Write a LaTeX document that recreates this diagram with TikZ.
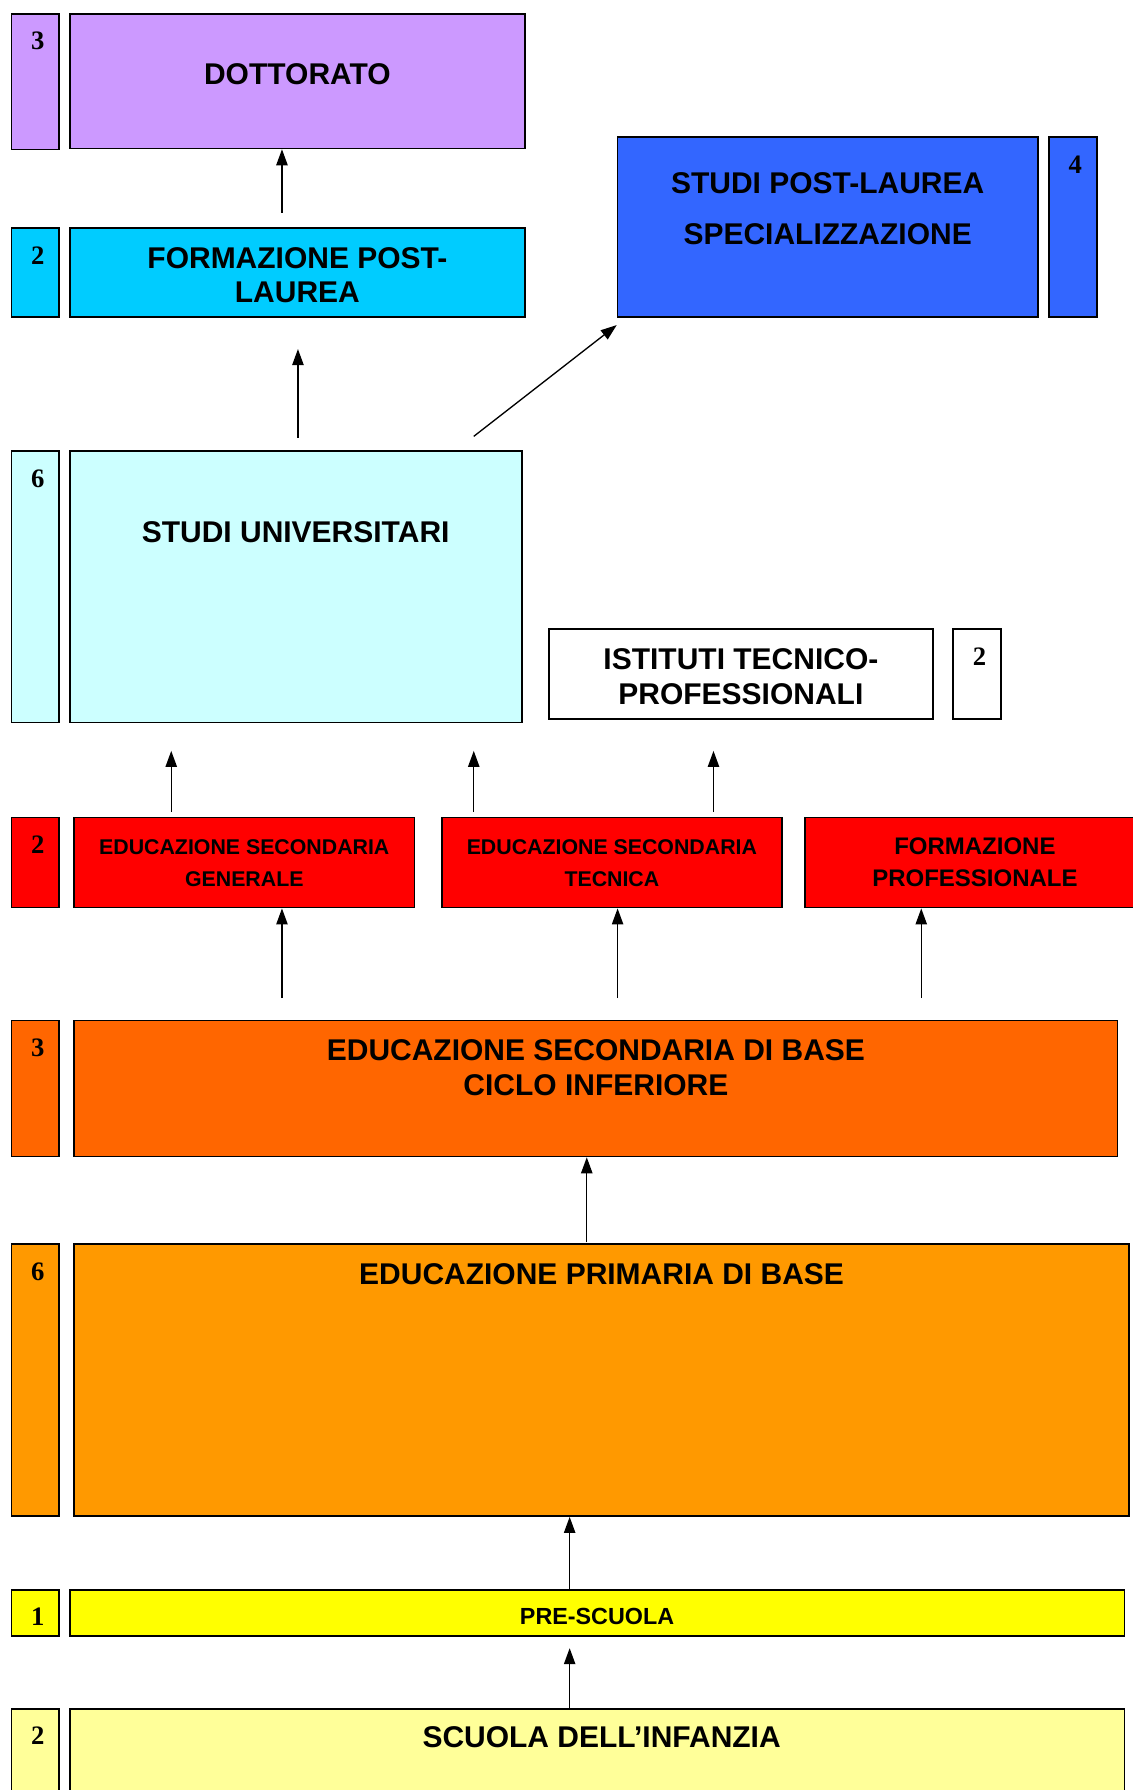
\documentclass[tikz,border=0pt]{standalone}
\usepackage{fontspec}
\setmainfont{Liberation Sans}
\newfontfamily\numfont{Liberation Serif}
\usetikzlibrary{calc, fit, arrows.meta}

\definecolor{dottcol}{HTML}{CC99FF}
\definecolor{fplcol}{HTML}{00CCFF}
\definecolor{splcol}{HTML}{3366FF}
\definecolor{univcol}{HTML}{CCFFFF}
\definecolor{redcol}{HTML}{FF0000}
\definecolor{basecol}{HTML}{FF6600}
\definecolor{primcol}{HTML}{FF9900}
\definecolor{precol}{HTML}{FFFF00}
\definecolor{infcol}{HTML}{FFFF99}

\begin{document}
\begin{tikzpicture}[
    x=0.8566pt, y=-0.8566pt,
    arrow/.style ={draw, line width=1pt, ->, >={Triangle[length=12pt,width=8.5pt]}},
    box/.style = {rectangle, draw=black, line width=1.3pt, inner sep=0pt},
    lbl/.style = {font=\bfseries\fontsize{22.5}{26.5}\selectfont, align=center, inner sep=0pt},
    small/.style = {font=\bfseries\fontsize{16}{24}\selectfont, align=center, inner sep=0pt},
    num/.style = {font=\numfont\bfseries\fontsize{20}{20}\selectfont, inner sep=0pt}
  ]
  \useasboundingbox[fill=white] (0,0) rectangle (992,1568);

  % boxes
  \node[box, fill=dottcol, fit={(10,12) (52,131)}] (dott-y) {};
  \node[box, fill=dottcol, fit={(61,12) (460,130)}] (dott) {};
  \node[box, fill=fplcol, fit={(10,200) (52,278)}] (fpl-y) {};
  \node[box, fill=fplcol, fit={(61,200) (460,278)}] (fpl) {};
  \node[box, fill=splcol, fit={(541,120) (909,278)}] (spl) {};
  \node[box, fill=splcol, fit={(919,120) (961,278)}] (spl-y) {};
  \node[box, fill=univcol, fit={(10,395) (52,633)}] (univ-y) {};
  \node[box, fill=univcol, fit={(61,395) (457,633)}] (univ) {};
  \node[box, fill=white, fit={(481,551) (817,630)}] (ist) {};
  \node[box, fill=white, fit={(835,551) (877,630)}] (ist-y) {};
  \node[box, fill=redcol, fit={(10,716) (52,795)}] (sec-y) {};
  \node[box, fill=redcol, fit={(65,716) (363,795)}] (gen) {};
  \node[box, fill=redcol, fit={(387,716) (685,795)}] (tec) {};
  \node[box, fill=redcol, fit={(705,716) (1003,795)}] (prof) {};
  \node[box, fill=basecol, fit={(10,894) (52,1013)}] (base-y) {};
  \node[box, fill=basecol, fit={(65,894) (979,1013)}] (base) {};
  \node[box, fill=primcol, fit={(10,1090) (52,1328)}] (prim-y) {};
  \node[box, fill=primcol, fit={(65,1090) (989,1328)}] (prim) {};
  \node[box, fill=precol, fit={(10,1393) (52,1433)}] (pre-y) {};
  \node[box, fill=precol, fit={(61,1393) (985,1433)}] (pre) {};
  \node[box, fill=infcol, fit={(10,1497) (52,1600)}] (inf-y) {};
  \node[box, fill=infcol, fit={(61,1497) (985,1600)}] (inf) {};

  % texts
  \node[lbl] (dott-t) at (260.5,65) {DOTTORATO};
  \node[lbl, font=\bfseries\fontsize{22.5}{25.7}\selectfont] (fpl-t) at (260.5,241) {FORMAZIONE POST-\\LAUREA};
  \node[lbl, font=\bfseries\fontsize{22.5}{38.5}\selectfont] (spl-t) at (725,182.5) {STUDI POST-LAUREA\\SPECIALIZZAZIONE};
  \node[lbl] (univ-t) at (259,466) {STUDI UNIVERSITARI};
  \node[lbl] (ist-t) at (649,592.5) {ISTITUTI TECNICO-\\PROFESSIONALI};
  \node[small] (gen-t) at (214,756) {EDUCAZIONE SECONDARIA\\GENERALE};
  \node[small] (tec-t) at (536,756) {EDUCAZIONE SECONDARIA\\TECNICA};
  \node[small, font=\bfseries\fontsize{18}{24}\selectfont] (prof-t) at (854,755) {FORMAZIONE\\PROFESSIONALE};
  \node[lbl] (base-t) at (522,935.5) {EDUCAZIONE SECONDARIA DI BASE\\CICLO INFERIORE};
  \node[lbl] (prim-t) at (527,1116) {EDUCAZIONE PRIMARIA DI BASE};
  \node[small, font=\bfseries\fontsize{17.5}{20}\selectfont] (pre-t) at (523,1416) {PRE-SCUOLA};
  \node[lbl] (inf-t) at (527,1522) {SCUOLA DELL’INFANZIA};

  % years
  \node[num] (dott-n) at (33,36) {3};
  \node[num] (fpl-n) at (33,224) {2};
  \node[num] (spl-n) at (942,144) {4};
  \node[num] (univ-n) at (33,419) {6};
  \node[num] (ist-n) at (858,575) {2};
  \node[num] (sec-n) at (33,740) {2};
  \node[num] (base-n) at (33,918) {3};
  \node[num] (prim-n) at (33,1114) {6};
  \node[num] (pre-n) at (33,1416) {1};
  \node[num] (inf-n) at (33,1520) {2};

  % arrows
  \begin{scope}[every path/.style=arrow]
    \path ($(fpl.north)+(-13.5,-13)$) -- ($(dott.south)+(-13.5,0)$);
    \path ($(univ.north)+(2,-11)$) -- ($(fpl.south)+(0.5,27)$);
    \path ($(univ.north)+(156,-12)$) -- ($(spl.south west)+(0,6)$);
    \path ($(gen.north)+(-64,-4)$) -- ($(univ.south)+(-109,24)$);
    \path ($(tec.north)+(-121,-4)$) -- ($(univ.south)+(156,24)$);
    \path ($(tec.north)+(89,-4)$) -- ($(ist.south)+(-24,27)$);
    \path ($(base.north)+(-275,-19)$) -- ($(gen.south)+(33,0)$);
    \path ($(base.north)+(19,-19)$) -- ($(tec.south)+(5,0)$);
    \path ($(base.north)+(285,-19)$) -- ($(prof.south)+(-47,0)$);
    \path ($(prim.north)+(-13,-1)$) -- ($(base.south)+(-8,0)$);
    \path ($(pre.north)+(-24,0)$) -- ($(prim.south)+(-28,0)$);
    \path ($(inf.north)+(-24,0)$) -- ($(pre.south)+(-24,10)$);
  \end{scope}
\end{tikzpicture}
\end{document}
